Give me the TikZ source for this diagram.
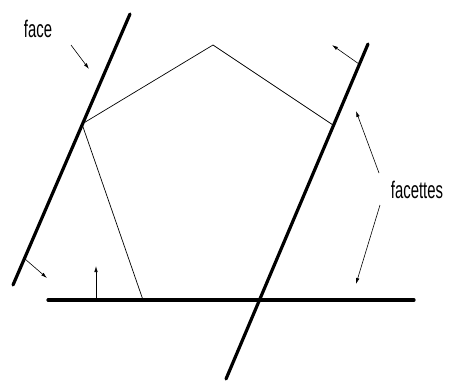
\documentclass[tikz,border=0pt]{standalone}
\usepackage{fontspec}
\newfontfamily\labelfont[FakeStretch=0.62]{Liberation Sans}
\usetikzlibrary{arrows.meta}

\begin{document}
\begin{tikzpicture}[x=1pt,y=-1pt,>={Latex[length=6pt,width=3.5pt]},
    plane/.style={line width=3.2pt,line cap=round},
    edge/.style={line width=0.7pt},
    normal/.style={->,line width=0.6pt},
    lbl/.style={font=\labelfont\fontsize{24}{24}\selectfont,inner sep=0pt}]
  \useasboundingbox (0,0) rectangle (449,381);
  % supporting planes
  \coordinate (L1) at (130,14);  \coordinate (L2) at (13,285);
  \coordinate (R1) at (368,44);  \coordinate (R2) at (226,379);
  \coordinate (B1) at (48,300);  \coordinate (B2) at (414,300);
  \draw[plane] (L1)--(L2);
  \draw[plane] (R1)--(R2);
  \draw[plane] (B1)--(B2);
  % pentagon
  \coordinate (pl) at (82,124);
  \coordinate (pt) at (213,45);
  \coordinate (pr) at (333,125);
  \coordinate (pb) at (143,300);
  \draw[edge] (pb)--(pl)--(pt)--(pr);
  % outward normals
  \coordinate (nl0) at (25,259);  \coordinate (nl1) at (47,278);
  \coordinate (nb0) at (96,300);  \coordinate (nb1) at (96,266);
  \coordinate (nr0) at (359,64);  \coordinate (nr1) at (332,45);
  \draw[normal] (nl0)--(nl1);
  \draw[normal] (nb0)--(nb1);
  \draw[normal] (nr0)--(nr1);
  % labels
  \node[lbl] (face) at (38,29) {face};
  \coordinate (fa0) at (71,45);   \coordinate (fa1) at (89,69);
  \draw[normal] (fa0)--(fa1);
  \node[lbl] (facettes) at (417,190) {facettes};
  \coordinate (ft0) at (379,173); \coordinate (ft1) at (356,111);
  \coordinate (fb0) at (380,205); \coordinate (fb1) at (356,284);
  \draw[normal] (ft0)--(ft1);
  \draw[normal] (fb0)--(fb1);
\end{tikzpicture}
\end{document}
